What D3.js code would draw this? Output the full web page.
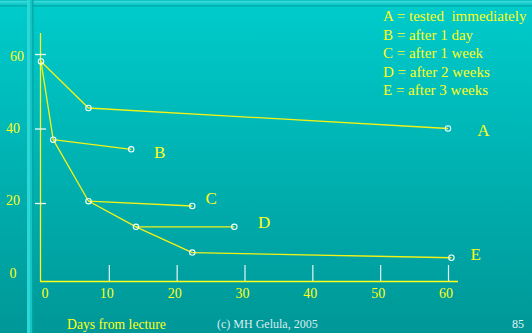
<!DOCTYPE html>
<html>
<head>
<meta charset="utf-8">
<script src="https://cdn.jsdelivr.net/npm/d3@7"></script>
<style>
  html, body { margin: 0; padding: 0; background: #00b3b3; }
  svg { display: block; }
  text { font-family: "Liberation Serif", "Times New Roman", serif; }
</style>
</head>
<body>
<svg id="chart" width="532" height="333"></svg>
<script>
// Retention curves: percent recalled vs. days after the lecture
const seriesNames = ["A", "B", "C", "D", "E"];
const seriesDays = [
  [0, 7, 60],
  [1.8, 13.3],
  [7, 22.3],
  [14, 28.5],
  [22.3, 60.5]
];
const seriesValues = [
  [58, 45.5, 40],
  [37, 34.4],
  [20.5, 19.2],
  [13.6, 13.6],
  [6.7, 5.3]
];
// first-test points joined by the initial forgetting curve
const curveDays = [0, 1.8, 7, 14, 22.3];
const curveValues = [58, 37, 20.5, 13.6, 6.7];

const legendLines = [
  "A = tested  immediately",
  "B = after 1 day",
  "C = after 1 week",
  "D = after 2 weeks",
  "E = after 3 weeks"
];
const xTickValues = [0, 10, 20, 30, 40, 50, 60];
const yTickValues = [0, 20, 40, 60];
const xTitle = "Days from lecture";
const footerLeft = "(c) MH Gelula, 2005";
const footerRight = "85";

const W = 532, H = 333;
const svg = d3.select("#chart");
const yellow = "#ffff1a";

// background: vertical teal gradient
const defs = svg.append("defs");
const grad = defs.append("linearGradient").attr("id", "bg")
  .attr("x1", 0).attr("y1", 0).attr("x2", 0).attr("y2", 1);
grad.append("stop").attr("offset", 0).attr("stop-color", "#00cccc");
grad.append("stop").attr("offset", 1).attr("stop-color", "#009797");
svg.append("rect").attr("width", W).attr("height", H).attr("fill", "url(#bg)");

// decorative frame stripes
svg.append("rect").attr("x", 0).attr("y", 0).attr("width", W).attr("height", 1.2).attr("fill", "#10c2c2");
svg.append("rect").attr("x", 0).attr("y", 1.2).attr("width", W).attr("height", 1.5).attr("fill", "#45dcdc");
svg.append("rect").attr("x", 0).attr("y", 2.7).attr("width", W).attr("height", 2.5).attr("fill", "#14caca");
svg.append("rect").attr("x", 0).attr("y", 5.2).attr("width", W).attr("height", 1.3).attr("fill", "#00a9a9");
svg.append("rect").attr("x", 27).attr("y", 0).attr("width", 3).attr("height", H).attr("fill", "#2ed6d6");
svg.append("rect").attr("x", 30).attr("y", 0).attr("width", 2.3).attr("height", H).attr("fill", "#12c6c6");
svg.append("rect").attr("x", 32.3).attr("y", 0).attr("width", 1.2).attr("height", H).attr("fill", "#00a4a4");

const x = d3.scaleLinear().domain([0, 60]).range([41, 448]);
const y = d3.scaleLinear().domain([0, 60]).range([277.5, 54]);
// value labels sit on a slightly tighter ladder than the tick marks
const yLabel = d3.scaleLinear().domain([0, 60]).range([277.5, 60.5]);

// axis lines
svg.append("line").attr("x1", 40.5).attr("x2", 40.5).attr("y1", 33).attr("y2", 281.5)
  .attr("stroke", yellow).attr("stroke-width", 1.3);
svg.append("line").attr("x1", 40).attr("x2", 458).attr("y1", 281.5).attr("y2", 281.5)
  .attr("stroke", yellow).attr("stroke-width", 1.3);

// x ticks (pointing up) and labels
const xAxis = d3.axisBottom(x).tickValues(xTickValues.filter(d => d > 0))
  .tickSize(-16).tickFormat("");
const gx = svg.append("g").attr("transform", "translate(0,281)").call(xAxis);
gx.select(".domain").remove();
gx.selectAll(".tick line").attr("stroke", "#e6f6f6").attr("stroke-width", 1.2);

svg.append("g").selectAll("text").data(xTickValues).join("text")
  .attr("x", d => x(d) + (d === 0 ? 4 : -2))
  .attr("y", 298)
  .attr("text-anchor", "middle")
  .attr("font-size", 14)
  .attr("fill", yellow)
  .text(d => d);

// y ticks (crossing the axis) and labels
const yAxis = d3.axisLeft(y).tickValues(yTickValues.filter(d => d > 0))
  .tickSizeInner(6).tickSizeOuter(0).tickFormat("");
const gy = svg.append("g").attr("transform", "translate(41,0)").call(yAxis);
gy.select(".domain").remove();
gy.selectAll(".tick line").attr("x1", 5).attr("x2", -6)
  .attr("stroke", "#eef8f8").attr("stroke-width", 1.3);

svg.append("g").selectAll("text").data(yTickValues).join("text")
  .attr("x", d => d === 60 ? 17 : 13)
  .attr("y", d => yLabel(d))
  .attr("text-anchor", "middle")
  .attr("font-size", 14)
  .attr("fill", yellow)
  .text(d => d);

// lines
const line = d3.line().x(d => x(d[0])).y(d => y(d[1]));
const lineColor = "#f2f218";
svg.append("path")
  .attr("d", line(d3.zip(curveDays, curveValues)))
  .attr("fill", "none").attr("stroke", lineColor).attr("stroke-width", 1.3);
seriesNames.forEach((name, i) => {
  svg.append("path")
    .attr("d", line(d3.zip(seriesDays[i], seriesValues[i])))
    .attr("fill", "none").attr("stroke", lineColor).attr("stroke-width", 1.3);
});

// test points
seriesNames.forEach((name, i) => {
  svg.append("g").selectAll("circle")
    .data(d3.zip(seriesDays[i], seriesValues[i]))
    .join("circle")
    .attr("cx", d => x(d[0])).attr("cy", d => y(d[1]))
    .attr("r", 2.7)
    .attr("fill", "none")
    .attr("stroke", "#f0ffff").attr("stroke-width", 1.1);
});

// series letters beside each final test point (offsets in days / percent)
const labelShift = [[5.2, -0.4], [4.2, -0.6], [2.8, 2.2], [4.4, 1.2], [3.6, 1.0]];
seriesNames.forEach((name, i) => {
  const n = seriesDays[i].length - 1;
  const lx = seriesDays[i][n] + labelShift[i][0];
  const ly = seriesValues[i][n] + labelShift[i][1];
  svg.append("text")
    .attr("x", x(lx)).attr("y", y(ly) + 6)
    .attr("text-anchor", "middle")
    .attr("font-size", 17)
    .attr("fill", yellow)
    .text(name);
});

// legend
svg.append("g").selectAll("text").data(legendLines).join("text")
  .attr("x", 383)
  .attr("y", (d, i) => 21 + i * 18.5)
  .attr("font-size", 15)
  .attr("fill", yellow)
  .style("white-space", "pre")
  .text(d => d);

// axis title and footer
svg.append("text").attr("x", 67).attr("y", 328.5)
  .attr("font-size", 13.7).attr("fill", yellow).text(xTitle);
svg.append("text").attr("x", 217).attr("y", 327.5)
  .attr("font-size", 12).attr("fill", "#dcecec").text(footerLeft);
svg.append("text").attr("x", 512).attr("y", 327.5)
  .attr("font-size", 12).attr("fill", "#e4f2f2").text(footerRight);
</script>
</body>
</html>
